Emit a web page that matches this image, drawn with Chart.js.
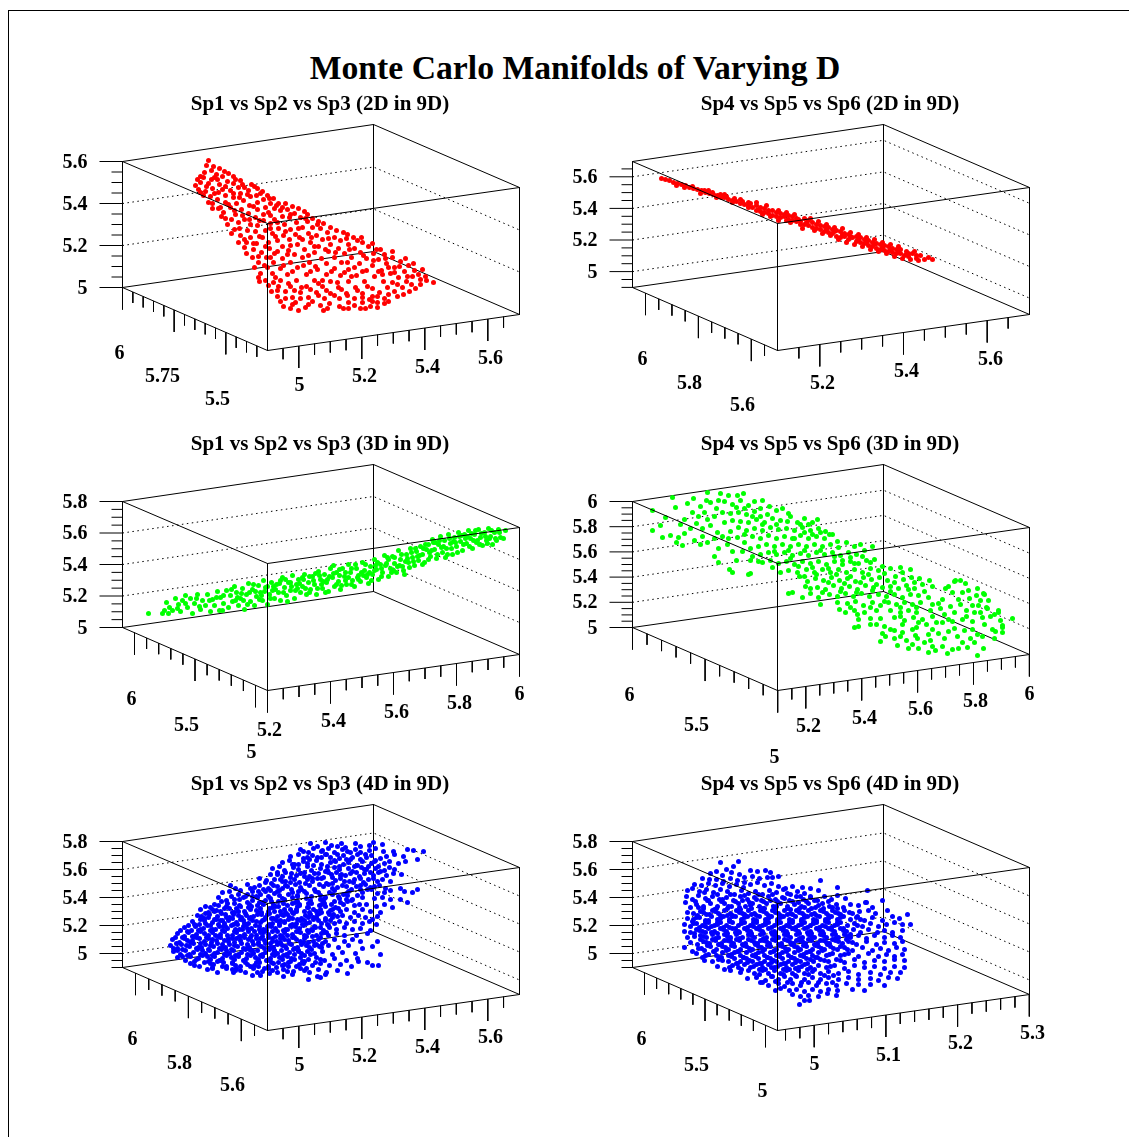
<!DOCTYPE html>
<html>
<head>
<meta charset="utf-8">
<title>Monte Carlo Manifolds of Varying D</title>
<script src="https://cdn.jsdelivr.net/npm/chart.js@4"></script>
<style>
  html, body { margin: 0; padding: 0; background: #fff; width: 1129px; height: 1137px; overflow: hidden; }
  #frame { position: absolute; left: 8px; top: 10px; width: 1121px; height: 1127px; border-left: 1px solid #000; border-top: 1px solid #000; box-sizing: border-box; }
  #main-title { position: absolute; left: 175px; width: 800px; top: 48px; line-height: 40px; text-align: center; white-space: nowrap;
    font-family: "Liberation Serif", serif; font-weight: bold; font-size: 33.7px; color: #000; }
  canvas { position: absolute; }
</style>
</head>
<body>
<div id="frame"></div>
<div id="main-title">Monte Carlo Manifolds of Varying D</div>

<script>
const subtitles = [
  "Sp1 vs Sp2 vs Sp3 (2D in 9D)", "Sp4 vs Sp5 vs Sp6 (2D in 9D)",
  "Sp1 vs Sp2 vs Sp3 (3D in 9D)", "Sp4 vs Sp5 vs Sp6 (3D in 9D)",
  "Sp1 vs Sp2 vs Sp3 (4D in 9D)", "Sp4 vs Sp5 vs Sp6 (4D in 9D)"
];
const pointColors = ["#ff0000", "#ff0000", "#00ff00", "#00ff00", "#0000ff", "#0000ff"];

// vertical axis labels, top to bottom
const zLabels = [
  ["5.6", "5.4", "5.2", "5"],
  ["5.6", "5.4", "5.2", "5"],
  ["5.8", "5.6", "5.4", "5.2", "5"],
  ["6", "5.8", "5.6", "5.4", "5.2", "5"],
  ["5.8", "5.6", "5.4", "5.2", "5"],
  ["5.8", "5.6", "5.4", "5.2", "5"]
];
// height in the box of the top label, spacing of labels
const zAxis = [[37, 42], [52.3, 31.6], [37, 31.5], [37, 25.2], [37, 28], [37, 28]];

// floor axes: start, major step, subdivisions, lowest and highest tick
const leftAxis = [[0, 51.67, 5, 0, 140], [13, 52.9, 4, 0, 140], [12, 60.5, 5, 0, 140], [0, 72.6, 5, 0, 146], [13, 52.9, 4, 0, 140], [12, 60.5, 5, 0, 140]];
const rightAxis = [[176.3, 63, 4, 145, 390], [187.3, 83.7, 4, 150, 390], [145, 63, 4, 145, 398], [173.3, 55.9, 4, 146, 398], [176.3, 63, 4, 145, 390], [181.7, 71.7, 5, 150, 398]];

const floorLabels = [
  [["6", -3, 229], ["5.75", 40, 252], ["5.5", 95, 275], ["5", 177, 261], ["5.2", 242, 252], ["5.4", 305, 243], ["5.6", 368, 234]],
  [["6", 10, 235], ["5.8", 57, 259], ["5.6", 110, 281], ["5.2", 190, 259], ["5.4", 274, 247], ["5.6", 358, 235]],
  [["6", 9, 235], ["5.5", 64, 261], ["5", 129, 288], ["5.2", 147, 266], ["5.4", 211, 257], ["5.6", 274, 248], ["5.8", 337, 239], ["6", 397, 230]],
  [["6", -3, 231], ["5.5", 64, 261], ["5", 142, 293], ["5.2", 176, 262], ["5.4", 232, 254], ["5.6", 288, 245], ["5.8", 343, 237], ["6", 397, 230]],
  [["6", 10, 235], ["5.8", 57, 259], ["5.6", 110, 281], ["5", 177, 261], ["5.2", 242, 252], ["5.4", 305, 243], ["5.6", 368, 233]],
  [["6", 9, 235], ["5.5", 64, 261], ["5", 130, 287], ["5", 182, 260], ["5.1", 256, 251], ["5.2", 328, 239], ["5.3", 400, 229]]
];

// scatter points, flat x,y pairs in projected box units
const sp123_2d = [86,36,91,42,97,44,89,46,82,48,106,49,94,50,111,52,100,52,81,53,75,55,118,56,89,55,95,55,105,57,
73,61,78,58,86,59,111,59,120,60,97,60,103,62,116,63,132,62,135,64,126,66,90,64,76,65,83,67,108,66,140,67,
96,68,118,69,145,71,134,71,151,74,128,72,103,71,88,72,111,73,81,71,95,75,141,75,121,76,156,79,148,79,135,78,114,79,103,78,90,79,
163,79,170,82,127,81,143,83,152,84,165,85,176,84,158,86,96,84,108,83,119,85,135,85,90,84,182,87,172,89,185,90,
101,88,113,90,126,89,141,90,148,91,160,92,178,93,190,94,167,93,133,93,122,95,109,95,99,92,
196,97,185,97,174,98,155,98,141,96,148,99,162,100,201,99,128,100,135,101,116,98,105,100,190,103,
208,103,198,104,180,103,168,105,156,104,143,106,125,106,112,105,133,107,150,109,173,110,186,109,205,108,214,106,221,108,225,110,
109,109,118,111,128,113,140,113,161,111,194,111,180,115,167,115,155,116,146,118,200,115,212,113,231,113,218,116,235,116,
116,118,124,118,134,119,188,118,175,120,226,120,240,118,208,120,196,122,160,122,147,124,122,123,131,125,139,128,166,126,182,125,216,124,232,124,246,122,258,125,
124,129,152,129,172,130,192,128,206,127,222,129,238,128,251,129,262,130,130,133,144,133,160,134,180,133,199,134,212,133,229,133,244,134,256,135,270,133,
136,138,151,138,168,138,187,138,204,139,219,138,237,139,264,139,278,137,286,141,272,143,250,141,
132,143,145,143,158,144,175,143,195,145,212,144,226,145,244,146,259,146,292,146,282,147,268,149,
138,149,150,149,165,150,184,150,204,150,218,151,234,151,252,152,276,153,296,150,304,156,290,152,
136,153,143,156,158,156,174,156,192,156,208,157,226,157,242,157,261,157,270,158,284,157,298,155,311,158,
146,161,156,162,168,162,184,162,200,162,216,163,233,163,250,164,265,163,280,163,293,164,
149,167,163,167,178,168,194,168,208,169,224,169,240,169,257,168,272,167,287,167,
155,172,170,173,186,173,202,174,217,174,232,174,247,175,262,174,275,172,
158,177,173,178,190,177,207,179,226,178,240,178,255,178,266,177,
161,182,168,184,176,186,183,183,201,186,198,181,221,184,226,184,238,184,248,182,255,183,243,184,
84,41,78,52,92,53,102,47,113,55,84,62,100,65,122,63,129,60,92,69,78,68,111,69,125,70,138,69,86,78,98,83,106,80,117,73,131,82,147,74,160,83,146,88,154,81,120,91,112,86,168,90,137,96,152,95,183,94,103,94,127,95,195,100,176,104,163,107,148,104,137,112,117,104,122,115,153,112,131,119,189,113,206,114,224,114,239,113,143,122,155,127,168,121,177,113,192,122,203,125,227,125,250,119,136,132,148,133,165,130,186,131,213,128,225,138,241,131,254,125,263,134,270,127,277,142,142,141,161,141,181,141,193,142,209,147,232,143,251,136,266,143,283,134,291,139,300,145,137,157,153,153,170,147,188,147,200,156,222,148,240,147,256,147,272,148,285,152,298,160,151,158,166,159,179,163,196,159,215,158,229,152,245,162,260,150,275,160,289,160,303,152,155,166,172,166,188,165,204,166,219,165,235,166,250,172,266,170,281,170,163,174,178,174,196,171,212,171,225,171,240,173,255,172,170,180,186,180,205,184,217,182,232,181,250,177,262,179];

const sp456_2d = [29,54,33,55,37,56,41,58,45,59,49,60,53,61,57,63,61,64,65,65,69,66,73,68,77,69,81,70,85,71,89,73,
72,66,80,68,88,70,92,73,96,75,100,76,104,77,108,79,112,80,116,81,94,72,102,74,110,77,118,79,120,83,
124,86,128,83,132,88,136,86,140,91,144,88,148,93,152,90,156,95,160,92,124,81,132,84,140,86,148,89,156,91,164,94,128,87,136,89,144,92,152,92,160,96,
168,97,172,94,176,101,180,98,184,104,188,101,192,107,196,103,200,109,204,106,208,113,212,109,216,115,168,100,176,96,184,100,192,102,200,105,208,107,216,110,172,100,180,103,188,105,196,108,204,112,212,112,220,113,164,97,
224,117,228,113,232,119,236,116,240,122,244,119,248,125,252,121,256,127,260,124,264,129,268,125,272,131,224,112,232,115,240,118,248,120,256,122,264,125,228,118,236,121,244,124,252,126,260,128,268,129,
276,132,280,129,284,134,288,131,292,135,296,133,300,135,276,129,284,131,
44,61,52,63,60,62,68,69,76,66,84,73,92,70,100,78,108,75,116,83,116,78,124,78,126,85,134,81,130,90,138,92,146,86,154,88,146,96,154,96,162,90,158,98,166,95,170,104,174,98,178,94,182,106,186,97,190,109,194,100,198,111,202,103,206,115,210,104,214,118,218,108,222,120,226,110,230,122,234,113,238,125,242,115,246,127,250,118,254,129,258,120,262,132,266,122,270,134,274,127,278,135,282,127,286,136,194,105,202,107,210,110,218,112,226,115,234,118,242,120,250,123,258,125,266,127,274,130];

const sp123_3d = [26,149,40,149,42,146,44,138,47,143,50,146,53,134,56,140,58,147,60,136,63,131,65,143,68,134,70,149,72,139,75,130,78,145,80,136,83,141,85,130,88,147,90,135,92,141,95,127,98,133,100,146,101,139,104,126,106,143,108,131,
110,137,112,122,114,128,116,141,118,134,120,124,122,145,124,130,126,119,128,137,130,125,132,141,134,132,136,121,138,128,140,136,141,116,143,123,145,140,147,130,149,118,150,126,152,134,154,120,156,128,158,136,160,113,162,123,164,131,166,118,
168,126,170,111,172,134,174,120,176,115,178,128,180,122,182,110,184,130,186,118,188,125,190,112,192,120,194,130,196,107,198,115,200,124,202,110,204,118,206,127,208,104,210,113,212,122,214,108,216,117,218,125,220,104,222,112,224,120,226,100,228,108,230,116,232,122,234,104,236,111,238,117,240,98,242,106,244,113,246,119,248,102,250,110,252,95,254,105,256,115,258,100,260,108,262,91,264,99,266,112,268,104,270,92,272,99,274,108,276,86,278,95,280,102,282,110,284,90,286,98,288,84,290,93,292,101,294,87,296,96,298,82,300,90,302,98,304,85,306,80,308,92,310,75,312,85,314,94,316,80,318,72,320,88,322,76,324,84,326,70,328,79,330,90,332,73,334,82,336,68,338,77,340,86,342,70,344,79,346,66,348,74,350,84,352,70,354,78,356,65,358,73,360,81,362,68,364,76,366,64,368,72,370,80,372,68,374,76,376,65,378,73,381,74,383,66,
115,133,127,128,139,131,151,122,163,115,175,124,187,112,199,120,211,101,223,116,235,113,247,108,259,104,271,106,283,97,295,92,307,88,319,83,331,77,343,74,355,76,367,74,121,136,133,127,145,122,157,119,169,122,181,115,193,109,205,115,217,105,229,104,241,111,253,101,265,93,277,101,289,88,301,84,313,78,325,90,337,72,349,69,
46,149,55,144,63,139,74,134,77,142,87,136,94,133,101,131,97,146,109,125,113,136,119,129,125,140,131,120,137,135,142,127,148,134,153,125,158,116,161,128,165,137,168,118,173,126,177,119,180,113,183,124,187,128,191,116,195,124,197,111,201,117,203,128,207,112,211,109,214,120,217,111,219,121,223,108,226,113,229,120,233,100,236,115,239,108,243,100,245,110,249,116,252,106,255,98,259,112,263,101,266,95,269,108,272,93,275,102,279,90,281,106,285,94,287,103,291,97,293,84,297,91,300,100,303,80,306,95,309,86,311,78,315,90,317,76,321,82,323,93,327,74,329,84,333,78,335,88,339,71,341,80,345,72,347,82,351,76,353,66,357,80,359,69,363,72,365,79,369,66,373,74,377,68];

const sp456_3d = [20,46,20,66,28,61,30,73,33,53,40,33,43,43,55,39,61,34,75,28,88,29,96,31,105,31,111,29,
38,71,46,73,52,69,44,78,50,81,62,76,70,72,58,64,64,59,72,48,78,38,84,44,92,37,100,40,108,36,116,41,122,37,130,36,128,44,
52,55,60,48,68,42,75,55,82,52,90,48,98,49,106,48,114,50,122,47,137,42,144,46,150,44,156,49,135,50,
70,64,78,61,85,68,92,58,100,56,108,57,116,58,124,55,132,58,140,54,148,56,155,57,165,58,172,54,180,58,185,55,
75,78,82,74,90,72,98,67,106,63,114,66,122,64,130,66,138,63,146,65,154,64,162,66,170,63,178,66,186,64,193,67,
68,80,95,80,105,73,112,78,120,72,128,74,136,71,144,74,152,72,160,74,168,71,176,74,184,72,192,74,200,70,205,77,
82,92,100,87,110,87,118,84,126,82,134,80,142,82,150,80,158,82,166,80,174,82,182,80,190,82,198,80,206,83,214,78,222,82,228,80,
86,98,104,96,97,105,120,92,128,90,136,88,144,90,152,88,160,91,168,89,176,91,184,88,192,90,200,88,208,91,216,88,224,90,232,86,240,82,
100,108,118,109,116,110,130,98,138,96,146,99,154,97,162,100,170,97,178,99,186,97,194,100,202,97,210,100,218,97,226,99,234,96,242,95,
148,108,140,103,156,106,165,108,174,105,182,108,190,105,198,108,206,105,214,108,222,105,230,108,238,104,246,106,258,104,268,103,278,105,
167,112,175,117,183,114,191,116,199,113,207,116,215,114,223,117,231,113,239,115,247,113,255,116,263,112,271,115,279,113,287,114,297,116,
156,129,160,128,173,122,185,123,193,125,201,121,209,124,217,122,225,125,233,121,241,123,250,123,258,122,266,124,274,121,282,124,290,120,300,122,
170,133,178,129,186,133,197,130,205,132,213,129,221,132,229,129,237,132,246,130,254,132,262,130,270,133,278,130,286,131,296,133,316,122,322,117,
188,140,205,138,215,139,223,137,231,141,240,138,248,141,256,138,264,140,272,138,280,140,288,138,300,140,310,135,320,128,330,128,326,135,336,126,
207,145,213,148,222,146,232,148,244,146,258,146,268,148,276,146,284,148,298,146,308,144,318,142,328,140,337,134,344,131,352,130,346,141,
225,150,238,154,248,154,262,153,272,156,281,153,290,155,300,152,312,150,322,148,334,146,342,148,354,143,362,150,
222,163,226,162,238,160,252,162,258,165,270,160,284,163,294,160,310,158,320,157,330,155,340,157,350,153,358,152,366,148,
250,169,270,168,268,172,283,171,300,165,306,169,322,164,340,165,345,170,360,165,363,167,370,161,
253,172,262,174,274,176,285,174,298,176,312,174,325,172,338,174,350,172,368,156,380,154,370,168,362,174,
265,181,248,177,280,180,292,178,286,184,300,182,303,186,315,189,320,185,310,182,335,183,345,191,351,184,330,178,342,178,
370,163,366,146,355,144,351,129,333,119,323,116,313,124,328,116,345,124,348,136,340,141,356,136,
48,60,66,52,74,36,86,36,104,43,112,44,120,52,128,52,130,60,144,60,158,52,168,60,176,60,162,74,172,68,180,70,188,68,197,70,112,70,96,74,86,84,118,96,126,97,142,87,156,86,172,86,188,86,202,92,218,93,230,92,158,94,166,102,180,103,196,104,210,96,222,99,238,98,250,102,172,112,184,110,204,110,218,112,236,110,252,109,270,108,178,124,196,118,212,119,228,118,244,120,262,118,282,118,190,128,208,127,224,128,240,126,258,127,276,125,292,127,218,143,238,143,252,137,268,143,284,143,306,139,226,155,244,160,268,152,286,158,304,158,316,155,334,152,348,148,262,166,280,165,296,170,316,167,332,166,352,160,276,184,296,188,326,184];

const sp123_4d = [188,39,195,42,203,38,209,41,219,39,223,43,233,39,238,42,247,41,251,38,260,40,
178,45,186,48,191,44,199,47,206,44,212,48,220,45,225,47,233,45,238,48,247,46,253,44,261,47,271,47,285,45,291,46,301,47,
168,52,176,50,181,54,190,51,195,53,203,50,208,53,217,54,221,51,230,53,235,50,244,53,249,51,258,54,264,52,272,50,281,52,295,55,
160,58,167,56,172,60,181,57,185,59,194,56,199,60,208,58,213,57,221,60,226,58,235,61,240,57,249,59,253,56,262,59,267,57,276,59,283,57,
150,64,157,62,162,66,171,63,176,65,185,62,189,66,198,64,203,67,212,63,217,65,226,64,230,67,239,63,244,65,253,64,258,67,267,63,272,65,
148,70,155,68,160,72,169,69,174,71,182,68,187,72,196,69,201,73,209,70,214,68,223,71,228,69,237,72,242,69,251,71,256,68,264,71,271,69,279,70,
137,74,144,76,149,79,158,75,163,77,172,75,177,78,185,75,190,77,199,74,204,79,213,76,218,74,227,77,232,75,241,78,246,75,255,77,260,75,268,77,
108,81,113,84,125,80,132,83,137,81,146,84,151,81,160,84,165,82,173,80,178,83,187,81,192,85,201,82,206,80,215,83,220,81,229,85,234,82,243,80,248,83,257,81,263,84,278,84,295,85,
100,88,107,87,118,86,125,90,130,87,138,90,143,87,152,89,157,86,166,90,170,88,179,85,184,89,193,87,198,91,207,88,212,86,221,90,226,87,235,91,240,88,249,85,255,89,262,88,268,86,282,87,290,88,
96,93,104,96,109,92,117,95,121,93,130,96,135,93,143,96,148,94,157,91,162,95,170,93,175,97,184,94,189,92,198,95,203,93,212,97,217,94,225,91,230,95,240,93,252,94,260,93,268,95,278,95,285,98,
92,100,99,97,104,102,112,99,117,101,125,98,129,102,137,98,141,100,149,97,153,102,161,99,165,101,173,98,177,100,185,103,189,99,197,101,201,97,209,100,213,103,221,100,225,97,232,101,244,100,254,102,262,100,270,103,
78,105,86,108,90,105,98,107,102,104,110,108,114,104,122,107,126,103,134,106,138,104,146,107,150,103,158,107,162,105,170,108,174,105,182,107,186,103,194,107,198,105,206,108,210,105,218,107,224,105,232,108,240,105,248,107,258,108,
75,111,82,114,87,110,95,112,99,109,107,113,111,110,119,113,123,109,131,112,135,110,143,113,147,109,155,112,159,110,167,113,171,109,179,114,183,111,191,113,195,110,203,114,207,110,215,112,220,111,228,113,236,111,243,113,250,115,255,112,
70,117,77,120,82,116,90,118,94,115,102,119,106,116,114,118,118,115,126,119,130,116,138,118,142,115,150,119,154,116,162,118,166,115,174,119,178,116,187,118,191,115,199,119,203,116,212,119,217,117,224,119,232,117,240,119,247,117,254,120,
62,123,69,126,73,122,81,124,85,121,93,125,97,122,105,124,109,121,117,125,121,122,129,124,133,121,141,125,145,122,153,124,157,121,165,125,169,122,177,124,181,121,189,125,193,123,201,126,207,123,214,125,222,123,230,125,238,124,248,126,
55,129,62,132,66,128,74,130,78,127,86,131,90,128,98,130,102,127,110,131,114,128,122,130,126,127,134,131,138,128,146,130,150,127,158,131,162,128,170,130,174,127,182,131,186,128,194,131,199,129,206,131,214,129,222,131,234,131,245,129,
50,135,57,138,62,134,70,136,74,133,82,137,86,134,94,136,98,133,106,137,110,134,118,136,122,133,130,137,134,134,142,136,146,133,154,137,158,134,166,136,170,133,178,137,182,134,191,137,196,135,203,137,212,135,222,137,230,135,238,137,255,137,
48,141,55,144,59,140,67,142,71,139,79,143,83,140,91,142,95,139,103,143,107,140,115,142,119,139,127,143,131,140,139,142,143,139,151,143,155,140,163,142,167,139,175,143,179,140,187,143,192,141,199,143,206,141,216,143,226,141,240,144,250,142,
51,147,58,150,63,146,71,148,75,145,83,149,87,146,95,148,99,145,107,149,111,146,119,148,123,145,131,149,135,146,143,148,147,145,155,149,159,146,167,148,171,145,179,149,185,147,192,149,200,147,210,150,220,148,233,149,258,150,
55,153,63,156,68,152,76,154,80,151,88,155,92,152,100,154,104,151,112,155,116,152,124,154,128,151,136,155,140,152,148,154,152,151,160,155,165,152,172,155,178,153,186,155,194,153,202,156,212,154,224,156,235,154,245,158,
68,159,77,162,82,158,91,160,95,157,104,162,110,159,118,162,123,158,132,161,137,158,146,162,151,159,160,161,166,158,174,162,181,159,190,161,198,159,207,161,218,160,229,162,236,157,250,161,256,161,
85,165,95,168,104,164,113,166,123,168,131,164,140,167,146,164,155,168,161,165,171,167,178,164,187,168,196,165,204,168,215,166,225,169,
111,168,130,171,138,171,147,169,161,172,170,170,186,175,195,172,198,173,203,170,
88,103,96,101,107,104,118,102,128,105,135,101,147,104,156,102,168,105,177,101,191,105,203,102,216,104,
83,109,92,107,103,110,112,108,124,111,136,108,145,110,152,107,165,110,174,107,188,110,199,108,211,110,
78,115,86,113,98,116,110,114,121,116,128,113,140,116,151,114,162,117,170,114,182,116,194,113,208,116,
73,121,83,119,96,120,103,122,115,120,124,120,137,122,147,120,157,119,168,121,180,120,192,122,205,120,
65,127,78,125,88,126,100,126,112,127,120,125,132,127,144,126,155,127,163,125,176,127,190,126,204,128,
60,133,72,132,84,133,96,132,106,134,118,132,128,133,140,132,150,134,160,132,172,133,184,132,198,133,
54,139,68,138,78,139,89,138,100,140,112,138,125,140,136,138,148,139,158,138,169,140,181,138,194,140,
60,145,74,144,86,145,97,144,109,145,121,144,130,146,142,144,152,146,164,144,176,146,189,145,
65,151,78,150,90,151,102,150,113,151,125,150,138,151,150,150,161,151,172,150,182,151,
72,157,86,157,98,156,110,158,122,156,134,158,144,156,156,158,168,157,180,157,
90,163,100,162,114,164,128,162,142,164,154,163,166,162,184,164,
181,47,204,50,215,50,228,48,243,50,187,55,199,53,212,56,224,55,238,55,252,57,176,60,191,61,205,62,217,62,232,62,246,62,163,68,178,69,192,69,206,68,219,70,234,68,248,68,262,66,152,75,168,73,182,72,195,74,210,73,222,77,238,74,251,74,143,78,155,82,168,78,183,79,197,80,210,79,224,82,238,81,252,82,128,84,141,85,155,87,169,85,182,87,196,88,210,90,224,89,238,85,116,90,134,92,146,92,160,94,175,91,188,96,202,94,216,92,229,96,112,95,140,98,156,97,170,99,186,99,202,99,218,98,237,100,
83,102,94,106,105,99,116,107,127,100,139,108,151,100,163,108,175,102,187,108,199,100,208,106,
79,112,92,115,104,113,116,111,127,114,139,110,149,114,161,111,175,115,186,113,197,109,210,113,
72,120,88,121,100,116,111,120,122,119,134,117,146,121,158,116,170,120,184,119,196,116,206,121,
66,121,76,126,90,125,101,122,113,125,125,124,137,125,149,122,161,126,173,122,185,126,198,123,
58,126,70,132,82,129,93,131,105,131,117,132,129,131,141,128,153,132,165,131,178,128,190,132,202,128,
53,133,65,136,77,134,90,135,102,136,114,134,126,135,138,134,150,137,162,135,174,135,186,138,200,139,
51,144,64,141,76,143,88,141,100,143,112,141,124,144,136,140,148,143,160,141,172,144,184,141,197,142,
55,146,67,150,80,146,92,149,104,146,116,150,128,146,140,150,152,147,164,150,176,147,188,150,
60,152,74,155,85,152,97,156,109,153,121,156,133,153,145,156,157,153,169,154,182,157,198,155,
72,161,88,159,101,158,113,161,125,160,136,162,149,158,162,160,177,160,193,158,
90,164,110,165,118,166,135,168,150,166,165,167,182,166,
130,92,148,86,163,81,176,87,190,74,205,66,218,71,231,78,245,85,155,70,170,60,185,53,200,46,215,42,228,55,242,65,256,62,160,77,175,92,210,84,224,95,136,87,123,92];

const sp456_4d = [88,58,106,57,101,62,94,65,84,67,90,71,78,69,99,68,107,70,118,66,125,67,133,66,138,68,112,73,
70,74,77,75,84,75,91,77,98,74,105,76,112,78,120,72,127,74,135,73,140,73,146,72,188,76,
62,80,69,81,76,79,83,81,90,79,97,82,104,80,111,83,118,80,125,78,132,81,139,79,146,82,153,84,160,82,170,83,178,84,
55,86,60,84,67,87,74,85,81,88,88,85,95,87,102,90,109,86,116,89,123,87,130,90,137,86,144,88,151,85,158,90,165,87,172,89,178,92,186,86,205,83,235,86,
54,92,60,95,66,91,73,94,80,92,87,95,94,93,101,96,108,92,115,95,122,93,129,96,136,92,143,95,150,93,157,96,164,92,171,95,178,93,185,96,192,92,199,95,205,91,213,94,234,98,
53,98,58,103,64,100,71,102,78,99,85,102,92,99,99,102,106,99,113,102,120,99,127,102,134,99,141,102,148,99,155,102,162,100,169,102,176,99,183,103,190,99,197,102,204,100,211,103,218,100,226,101,233,98,240,103,250,96,
55,108,61,109,68,107,74,110,80,106,86,109,92,106,98,109,104,106,110,109,116,106,122,109,128,106,134,109,140,106,146,109,152,106,158,109,164,106,170,109,176,106,182,109,188,106,194,109,200,106,206,109,212,106,220,109,227,107,236,106,243,109,255,106,
55,114,61,115,67,113,73,116,79,112,85,115,91,112,97,115,103,112,109,115,115,112,121,115,127,112,133,115,139,112,145,115,151,112,157,115,163,112,169,115,175,112,181,115,187,112,193,115,199,112,205,115,211,112,218,115,224,113,232,116,240,113,250,116,260,112,267,114,275,110,
52,120,58,122,64,119,70,121,76,118,82,121,88,118,94,121,100,118,106,121,112,118,118,121,124,118,130,121,136,118,142,121,148,118,154,121,160,118,166,121,172,118,178,121,184,118,190,121,196,118,202,121,208,118,215,121,222,119,230,122,238,119,246,122,254,120,262,118,270,120,278,120,
52,127,58,128,64,125,70,127,76,124,82,127,88,124,94,127,100,124,106,127,112,124,118,127,124,124,130,127,136,124,142,127,148,124,154,127,160,124,166,127,172,124,178,127,184,124,190,127,196,124,202,127,208,124,214,127,221,125,228,128,236,125,245,128,252,126,260,128,270,126,
55,133,62,132,68,131,74,133,80,130,86,133,92,130,98,133,104,130,110,133,116,130,122,133,128,130,134,133,140,130,146,133,152,130,158,133,164,130,170,133,176,130,182,133,188,130,194,133,200,130,206,133,212,130,218,133,226,131,234,134,242,131,252,133,260,131,268,133,
58,138,65,140,71,137,77,139,83,136,89,139,95,136,101,139,107,136,113,139,119,136,125,139,131,136,137,139,143,136,149,139,155,136,161,139,167,136,173,139,179,136,185,139,191,136,197,139,203,136,210,139,216,137,224,140,234,137,244,140,252,138,262,139,270,137,
52,143,60,147,66,144,72,146,78,142,84,145,90,142,96,145,102,142,108,145,114,142,120,145,126,142,132,145,138,142,144,145,150,142,156,145,162,142,168,145,174,142,180,145,186,142,192,145,198,142,205,145,212,143,220,146,230,143,240,146,248,144,256,146,264,143,272,145,
64,149,70,153,76,150,84,151,90,148,96,151,102,148,108,151,114,148,120,151,126,148,132,151,138,148,144,151,150,148,156,151,162,148,168,151,174,148,180,151,186,148,194,151,200,149,208,151,216,149,226,152,236,149,246,152,254,150,262,152,270,150,
72,156,80,157,86,155,96,157,102,154,108,157,114,154,120,157,126,154,132,157,138,154,144,157,150,154,156,157,162,154,168,157,174,154,181,157,188,155,196,157,204,155,212,158,222,155,232,158,242,156,252,157,262,155,272,156,
85,162,92,165,100,161,106,163,112,160,118,163,124,160,130,163,136,160,142,163,148,160,154,163,160,160,166,163,172,160,178,163,186,161,194,163,202,161,212,164,222,161,232,163,242,162,252,164,262,162,272,163,
98,166,108,168,116,166,122,169,130,166,136,169,142,166,148,169,154,166,160,169,166,166,172,169,180,167,188,169,196,167,206,169,216,167,226,170,238,168,248,170,258,168,268,168,
115,174,124,173,133,176,140,172,146,175,152,172,158,175,164,172,172,175,180,173,188,175,196,173,206,175,216,173,226,175,238,174,246,176,256,173,265,174,
130,178,136,181,146,179,152,182,160,179,168,181,176,178,184,181,194,179,204,181,214,179,226,180,238,180,252,181,
143,186,148,184,157,186,164,185,172,187,180,185,188,187,196,185,205,186,220,185,232,186,
160,190,168,192,176,191,186,192,195,189,204,191,
167,200,172,196,177,196,
72,88,85,90,98,90,112,91,126,90,140,90,155,89,168,92,
63,97,75,96,89,97,103,97,117,98,131,97,145,97,160,97,174,97,
71,104,84,104,95,104,107,103,119,104,131,104,143,104,155,104,167,104,179,104,191,104,205,104,
65,111,77,110,88,111,100,111,112,110,124,111,136,111,148,111,160,110,172,111,184,111,196,111,208,110,225,112,
60,117,73,118,85,118,97,117,109,118,121,118,133,118,145,117,157,118,169,117,181,118,193,117,205,118,
67,123,79,122,91,123,103,124,115,123,127,122,139,123,151,123,163,123,175,123,187,123,199,123,211,124,
62,129,73,128,85,129,95,129,107,128,119,129,131,129,143,129,155,129,167,129,179,129,191,129,203,130,218,130,
68,135,80,135,92,136,104,135,116,135,128,136,140,135,152,135,164,136,176,135,188,136,200,135,214,135,
75,141,87,140,99,141,111,141,123,140,135,141,147,141,159,140,171,141,183,141,195,140,208,142,
82,147,94,146,106,147,118,146,130,147,142,146,154,147,166,146,178,147,190,146,
89,153,99,152,111,153,123,152,135,153,147,152,159,153,171,152,185,153,
104,159,115,158,127,159,139,158,151,159,163,158,175,159,
127,165,139,163,151,165,163,164,175,165,
76,96,90,95,110,96,124,95,138,96,152,94,166,98,182,96,196,97,
66,103,82,105,96,102,108,105,118,101,132,104,144,102,158,105,172,103,186,101,200,103,
71,108,83,107,95,111,107,108,119,110,131,107,143,108,155,110,167,108,179,110,191,107,203,108,217,108,
64,113,76,116,88,114,100,112,112,113,124,116,136,114,148,113,160,116,172,113,184,116,196,114,208,113,228,115,
61,119,73,122,85,120,97,123,109,119,121,122,133,120,145,119,157,122,169,120,181,119,193,122,205,120,225,121,
67,126,79,128,91,125,103,128,115,126,127,125,139,128,151,126,163,125,175,128,187,126,199,125,211,126,
71,132,83,134,95,132,107,134,119,131,131,134,143,132,155,131,167,134,179,132,191,131,203,134,215,132,
74,138,86,140,98,137,110,140,122,138,134,137,146,140,158,138,170,137,182,140,194,138,206,137,220,138,
69,144,81,147,93,143,105,147,117,144,129,143,141,147,153,144,165,143,177,147,189,144,201,144,215,145,
73,151,87,153,99,150,111,153,123,150,135,153,147,150,159,153,171,150,183,153,197,150,212,150,
90,156,105,159,117,156,129,159,141,156,153,159,165,156,178,155,192,156,208,156,
97,163,109,165,121,162,133,165,145,162,157,165,169,162,182,165,198,162,
127,170,139,172,151,170,163,171,176,170,192,171,201,171,
128,178,143,177,155,178,169,178,186,178,200,178];

const pointSets = [sp123_2d, sp456_2d, sp123_3d, sp456_3d, sp123_4d, sp456_4d];

function pairs(flat) {
  const out = [];
  for (let i = 0; i < flat.length; i += 2) out.push({x: flat[i], y: flat[i + 1]});
  return out;
}

// box corners in projected units, T = top of the box, B = floor
const TL = [0, 37], TB = [251, 0], TR = [397, 63], TF = [145, 99];
const BL = [0, 163], BB = [251, 127], BR = [397, 190], BF = [145, 226];

const gap = {x: NaN, y: NaN};
function seg(list, a, b) {
  list.push({x: a[0], y: a[1]}, {x: b[0], y: b[1]}, gap);
}

function ticksOn(start, step, sub, lo, hi) {
  const out = [];
  const inc = step / sub;
  for (let k = -sub * 2; k < sub * 10; k++) {
    const pos = start + k * inc;
    if (pos >= lo && pos <= hi) out.push({pos: pos, major: k % sub === 0});
  }
  return out;
}

function frontLines(i) {
  const lines = [];
  seg(lines, TL, TF); seg(lines, TF, TR); seg(lines, TF, BF);
  seg(lines, BL, BF); seg(lines, BF, BR); seg(lines, TL, BL); seg(lines, TR, BR);
  // vertical axis ticks
  const [z0, zStep] = zAxis[i];
  ticksOn(z0, zStep, 4, 37, 163).forEach(t => {
    seg(lines, [t.major ? -23 : -11, t.pos], [0, t.pos]);
  });
  // floor axes ticks
  ticksOn(...leftAxis[i]).forEach(t => {
    const v = BL[1] + (BF[1] - BL[1]) / BF[0] * t.pos;
    seg(lines, [t.pos, v], [t.pos, v + (t.major ? 22 : 11)]);
  });
  ticksOn(...rightAxis[i]).forEach(t => {
    const v = BF[1] + (BR[1] - BF[1]) / (BR[0] - BF[0]) * (t.pos - BF[0]);
    seg(lines, [t.pos, v], [t.pos, v + (t.major ? 22 : 11)]);
  });
  return lines;
}

function backLines() {
  const lines = [];
  seg(lines, TL, TB); seg(lines, TB, TR); seg(lines, TB, BB); seg(lines, BL, BB); seg(lines, BB, BR);
  return lines;
}

function gridLines(i) {
  const lines = [];
  const [z0, zStep] = zAxis[i];
  zLabels[i].forEach((lab, k) => {
    const v = z0 + k * zStep;
    if (v < 38 || v > 162) return;
    lines.push({x: 0, y: v}, {x: 251, y: v - 36.5}, {x: 397, y: v + 26.5}, gap);
  });
  return lines;
}

const tickText = {
  id: "tickText",
  afterDraw(chart, args, opts) {
    const c = chart.ctx, xs = chart.scales.x, ys = chart.scales.y;
    c.save();
    c.font = "bold 20px 'Liberation Serif', serif";
    c.fillStyle = "#000";
    c.textBaseline = "middle";
    c.textAlign = "center";
    floorLabels[opts.panel].forEach(l => {
      c.fillText(l[0], xs.getPixelForValue(l[1]), ys.getPixelForValue(l[2]));
    });
    c.textAlign = "right";
    zLabels[opts.panel].forEach((lab, k) => {
      c.fillText(lab, xs.getPixelForValue(-35), ys.getPixelForValue(zAxis[opts.panel][0] + k * zAxis[opts.panel][1] + 1));
    });
    c.restore();
  }
};

for (let i = 0; i < 6; i++) {
  const canvas = document.createElement("canvas");
  canvas.width = 530;
  canvas.height = 340;
  canvas.style.left = (55 + 510 * (i % 2)) + "px";
  canvas.style.top = (90 + 340 * Math.floor(i / 2)) + "px";
  document.body.appendChild(canvas);

  new Chart(canvas.getContext("2d"), {
    type: "scatter",
    plugins: [tickText],
    data: {
      datasets: [
        {label: "front", data: frontLines(i), showLine: true, pointRadius: 0, borderColor: "#000", borderWidth: 1, order: 0},
        {label: subtitles[i], data: pairs(pointSets[i]), pointRadius: 2.5, pointBorderWidth: 0, pointBackgroundColor: pointColors[i], order: 1},
        {label: "back", data: backLines(), showLine: true, pointRadius: 0, borderColor: "#000", borderWidth: 1, order: 2},
        {label: "grid", data: gridLines(i), showLine: true, pointRadius: 0, borderColor: "#000", borderWidth: 1, borderDash: [1.5, 3.5], order: 3}
      ]
    },
    options: {
      responsive: false,
      animation: false,
      events: [],
      layout: {padding: 0, autoPadding: false},
      scales: {
        x: {type: "linear", display: false, min: -67.5, max: 462.5},
        y: {type: "linear", display: false, min: -0.5, max: 305.5, reverse: true}
      },
      plugins: {
        legend: {display: false},
        tooltip: {enabled: false},
        tickText: {panel: i},
        title: {
          display: true,
          text: subtitles[i],
          color: "#000",
          font: {family: "'Liberation Serif', serif", size: 21, weight: "bold"},
          padding: {top: 2, bottom: 6.8}
        }
      }
    }
  });
}
</script>
</body>
</html>
